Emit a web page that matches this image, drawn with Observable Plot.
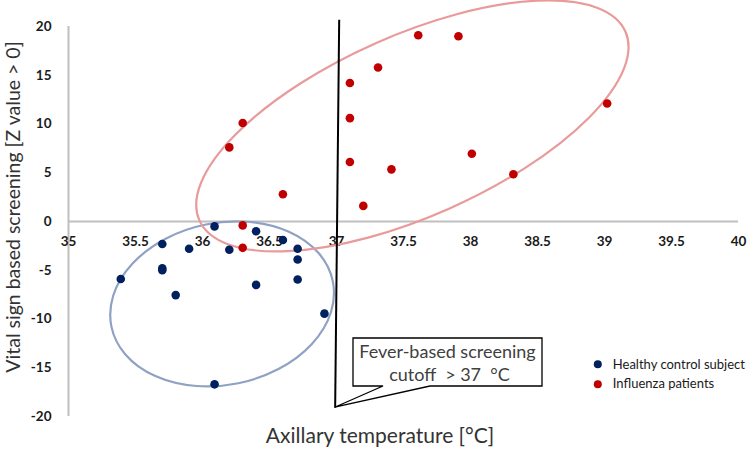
<!DOCTYPE html>
<html><head><meta charset="utf-8">
<script src="https://cdn.jsdelivr.net/npm/d3@7"></script>
<script src="https://cdn.jsdelivr.net/npm/@observablehq/plot@0.6"></script>
<style>body{margin:0;background:#fff}</style>
</head><body><div id="chart"></div>
<script>
// Data
const healthyX = [36.09,36.40,36.60,35.70,35.90,36.20,36.71,36.71,35.70,35.70,35.39,36.40,36.71,35.80,36.91,36.09];
const healthyY = [-0.5,-1.0,-1.9,-2.3,-2.8,-2.9,-2.8,-3.9,-4.8,-5.0,-5.9,-6.5,-5.95,-7.55,-9.45,-16.7];
const fluX = [36.30,36.20,36.60,37.10,37.10,37.10,37.31,37.41,37.20,36.30,37.61,37.91,39.02,38.01,38.32,36.30];
const fluY = [10.1,7.6,2.8,14.2,10.6,6.1,15.8,5.35,1.6,-0.4,19.1,19.0,12.1,6.95,4.85,-2.7];
const xTicks = [35,35.5,36,36.5,37,37.5,38,38.5,39,39.5,40];
const yTicks = [-20,-15,-10,-5,0,5,10,15,20];
const seriesNames = ["Healthy control subject","Influenza patients"];
const cutoff = 37;

const healthy = healthyX.map((x,i)=>({x, y: healthyY[i]}));
const flu = fluX.map((x,i)=>({x, y: fluY[i]}));

const blue = "#002060", red = "#c00000";
const font = "Lato, 'Open Sans', sans-serif";

// group ellipses (center in data units, radii in px, rotation deg)
const ellipses = [
  {cx: 36.15, cy: -8.5, rx: 113, ry: 81, rot: -11.6, stroke: "#8fa2c4"},
  {cx: 37.57, cy: 9.75, rx: 233, ry: 90.5, rot: -23.9, stroke: "#e99a9a"}
];

function ellipseMark(index, scales) {
  const g = d3.create("svg:g");
  for (const e of ellipses) {
    const px = scales.x(e.cx), py = scales.y(e.cy);
    g.append("ellipse")
      .attr("cx", px).attr("cy", py).attr("rx", e.rx).attr("ry", e.ry)
      .attr("transform", `rotate(${e.rot} ${px} ${py})`)
      .attr("fill", "none").attr("stroke", e.stroke).attr("stroke-width", 2.2);
  }
  return g.node();
}

function calloutMark(index, scales) {
  const g = d3.create("svg:g");
  const tipX = scales.x(cutoff - 0.01), tipY = scales.y(-19.1);
  const bx = 353, by = 338, bw = 189, bh = 48;
  const p1 = bx + 30, p2 = bx + 77;
  g.append("path")
    .attr("d", `M${bx},${by}H${bx+bw}V${by+bh}H${p2}L${tipX},${tipY}L${p1},${by+bh}H${bx}Z`)
    .attr("fill", "#fff").attr("stroke", "#000").attr("stroke-width", 1.3);
  g.append("text").attr("x", bx + bw/2).attr("y", by + 15).attr("text-anchor","middle")
    .attr("dominant-baseline","middle").attr("font-size", 18).attr("fill","#404040")
    .attr("font-family", font).text("Fever-based screening");
  g.append("text").attr("x", bx + bw/2 + 2).attr("y", by + 38).attr("text-anchor","middle")
    .attr("dominant-baseline","middle").attr("font-size", 18).attr("fill","#404040")
    .attr("font-family", font).attr("xml:space","preserve").text("cutoff  > 37  °C");
  return g.node();
}

const chart = Plot.plot({
  width: 750, height: 452,
  marginLeft: 68, marginRight: 12, marginTop: 26, marginBottom: 36,
  style: {fontFamily: font, background: "#fff"},
  x: {domain: [35, 40], axis: null},
  y: {domain: [-20, 20], axis: null},
  marks: [
    Plot.ruleX([35], {y1: -20, y2: 20, stroke: "#bfbfbf", strokeWidth: 2}),
    Plot.ruleY([0], {x1: 35, x2: 40, stroke: "#bfbfbf", strokeWidth: 2}),
    Plot.text(yTicks, {x: 35, y: d => d, text: d => String(d), textAnchor: "end", dx: -17,
      fontWeight: "bold", fontSize: 13.5, fill: "#1a1a1a"}),
    Plot.text(xTicks, {x: d => d, y: 0, text: d => String(d), dy: 20,
      fontWeight: "bold", fontSize: 13.5, fill: "#1a1a1a"}),
    ellipseMark,
    Plot.link([{x1: cutoff + 0.02, y1: 20.7, x2: cutoff - 0.01, y2: -19.1}],
      {x1: "x1", y1: "y1", x2: "x2", y2: "y2", stroke: "#000", strokeWidth: 2}),
    calloutMark,
    Plot.dot(flu, {x: "x", y: "y", r: 4.3, fill: red}),
    Plot.dot(healthy, {x: "x", y: "y", r: 4.3, fill: blue}),
    // legend
    Plot.dot(seriesNames, {x: 38.95, y: (d,i) => i === 0 ? -14.65 : -16.7, r: 4, fill: (d,i) => i === 0 ? blue : red}),
    Plot.text(seriesNames, {x: 38.95, y: (d,i) => i === 0 ? -14.65 : -16.7, text: d => d, dx: 15,
      textAnchor: "start", fontSize: 13, fill: "#1a1a1a"})
  ]
});

const svg = d3.select(chart);
svg.append("text").attr("x", 380).attr("y", 438).attr("text-anchor","middle")
  .attr("dominant-baseline","middle").attr("font-size", 21).attr("fill","#333")
  .attr("font-family", font).text("Axillary temperature [°C]");
svg.append("text").attr("transform","translate(15,207) rotate(-90)").attr("text-anchor","middle")
  .attr("dominant-baseline","middle").attr("font-size", 19.5).attr("fill","#333")
  .attr("font-family", font).text("Vital sign based screening [Z value > 0]");

document.getElementById("chart").append(chart);
</script></body></html>
